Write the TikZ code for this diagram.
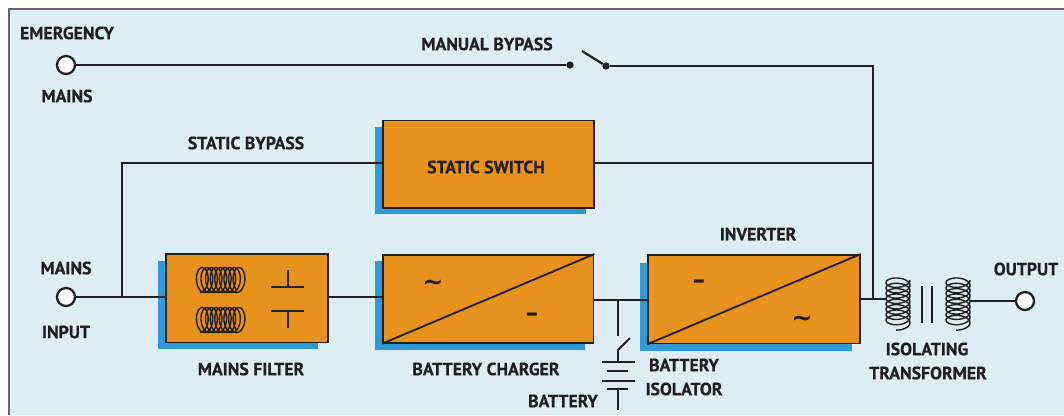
\documentclass[tikz,border=0pt]{standalone}
\usepackage{fontspec}
\setmainfont[BoldFeatures={FakeBold=0.5}]{PT Sans}
\newfontfamily\symfont{DejaVu Sans}
\definecolor{bgblue}{HTML}{DCEEF4}
\definecolor{shadowblue}{HTML}{2E9AD6}
\definecolor{boxorange}{HTML}{E8921E}
\definecolor{inkline}{HTML}{231F20}
\tikzset{
  x=0.75pt,y=-0.75pt,
  wire/.style={draw=inkline,line width=1.7pt},
  thin wire/.style={draw=inkline,line width=1.4pt},
  coilpath/.style={draw=inkline,line width=1.05pt},
  lab/.style={font=\bfseries\fontsize{13.3}{15}\selectfont,text=inkline,inner sep=0pt},
  term/.style={circle,draw=inkline,line width=1.7pt,fill=white,minimum size=13.5pt,inner sep=0pt},
  dotn/.style={circle,fill=inkline,minimum size=5.5pt,inner sep=0pt},
  ub/.style={draw=inkline,line width=1.3pt,fill=boxorange,inner sep=0pt,anchor=north west},
  sym/.style={font=\symfont\bfseries\fontsize{19}{19}\selectfont,text=inkline,inner sep=0pt},
}
\newcommand{\hcoil}[2]{% left x, centre y : horizontal helix
  \draw[coilpath,smooth] plot[domain=0:56,samples=230,variable=\t]
   ({#1+7+\t*0.73+7*sin(\t r)}, {#2+12.5*cos(\t r)});
}
\newcommand{\vcoil}[2]{% centre x, top y : vertical helix
  \draw[coilpath,smooth] plot[domain=0:52,samples=210,variable=\t]
   ({#1+12*cos(\t r)}, {#2+6+\t*0.85+6*sin(\t r)});
}
\begin{document}
\begin{tikzpicture}
\useasboundingbox (0,0) rectangle (1064,415);
\fill[white] (0,0) rectangle (1064,415);
\fill[bgblue] (9,9) rectangle (1064,415);
\draw[draw=black!60,line width=0.9pt] (1064,9) -- (9,9) -- (9,415);

% shadows
\fill[shadowblue] (375,127) rectangle (586,214);
\fill[shadowblue] (158,261) rectangle (318,349);
\fill[shadowblue] (375,261) rectangle (585,350);
\fill[shadowblue] (640,263) rectangle (852,351);

% boxes
\node[ub,minimum width=158.5pt,minimum height=65.5pt] (sw) at (382,119.5) {};
\node[ub,minimum width=121.5pt,minimum height=66.5pt] (filt) at (165,253) {};
\node[ub,minimum width=158pt,minimum height=66pt] (chg) at (382,254) {};
\node[ub,minimum width=159pt,minimum height=66.5pt] (inv) at (647,254) {};

% terminals
\node[term] (em) at (66,65) {};
\node[term] (in) at (66,297) {};
\node[term] (out) at (1025,301) {};

% named points
\coordinate (j1) at (122,297);
\coordinate (j1up) at (122,163);
\coordinate (j2) at (873,299);
\coordinate (j2up) at (873,67);
\coordinate (j3) at (873,163);
\coordinate (batj) at (618,300);
\coordinate (battop) at (618,336);
\coordinate (txl) at (887,299);
\coordinate (txr) at (970,301);
\node[dotn] (s1) at (570,65) {};
\node[dotn] (s2) at (606,66) {};
\coordinate (arm) at (582,51);

% wiring
\draw[wire] (em) -- (s1);
\draw[wire] (s2) -- (arm);
\draw[wire] (s2) -- (s2 -| j2up) -- (j2);
\draw[wire] (in) -- (j1);
\draw[wire] (j1) -- (filt.west |- j1);
\draw[wire] (j1) -- (j1up) -- (sw.west |- j1up);
\draw[wire] (sw.east |- j3) -- (j3);
\draw[wire] (filt.east |- j1) -- (chg.west |- j1);
\draw[wire] (chg.east |- batj) -- (inv.west |- batj);
\draw[wire] (inv.east |- j2) -- (txl);
\draw[wire] (txr) -- (out);

% battery isolator and cells
\draw[thin wire] (batj) -- (battop);
\draw[thin wire] (630,338) -- (618,350) -- (618,361);
\draw[thin wire] (602,362) -- (635,362);
\draw[thin wire] (607,371) -- (628,371);
\draw[thin wire] (602,381) -- (635,381);
\draw[thin wire] (607,389) -- (628,389);
\draw[thin wire] (618,389) -- (618,410);

% converter diagonals
\draw[thin wire] (chg.south west) -- (chg.north east);
\draw[thin wire] (inv.south west) -- (inv.north east);
\node[sym] at (433,285) {\char"007E};
\node[sym] at (532,317) {–};
\node[sym] at (699,284) {–};
\node[sym] at (802,321) {\char"007E};

% filter symbols
\hcoil{193}{280}
\hcoil{193}{320}
\draw[thin wire] (288,270) -- (288,287);
\draw[thin wire] (271,287) -- (304,287);
\draw[thin wire] (271,311) -- (304,311);
\draw[thin wire] (288,311) -- (288,328);

% transformer
\vcoil{898}{274}
\vcoil{958}{274}
\draw[thin wire] (922,286) -- (922,323);
\draw[thin wire] (932,286) -- (932,323);

% labels
\node[lab] at (67,33) {EMERGENCY};
\node[lab] at (67,96) {MAINS};
\node[lab] at (487,44) {MANUAL BYPASS};
\node[lab] at (246,143) {STATIC BYPASS};
\node[lab] at (486,167) {STATIC SWITCH};
\node[lab] at (66,268) {MAINS};
\node[lab] at (66,332) {INPUT};
\node[lab] at (251,369) {MAINS FILTER};
\node[lab] at (486,369) {BATTERY CHARGER};
\node[lab] at (563,401) {BATTERY};
\node[lab] at (684,365) {BATTERY};
\node[lab] at (684,389) {ISOLATOR};
\node[lab] at (758,234) {INVERTER};
\node[lab] at (927,349) {ISOLATING};
\node[lab] at (928,373) {TRANSFORMER};
\node[lab] at (1026,269) {OUTPUT};
\end{tikzpicture}
\end{document}
